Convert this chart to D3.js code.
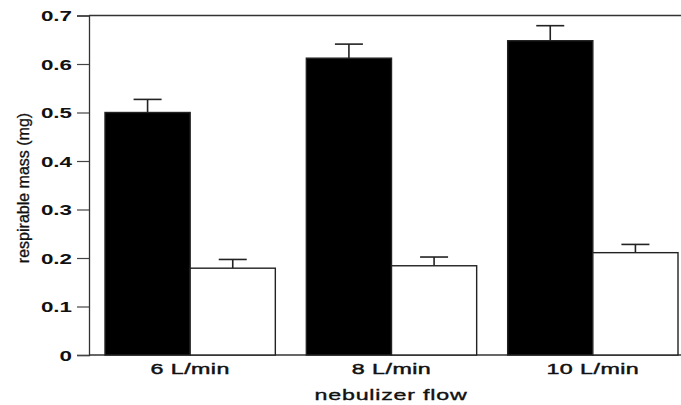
<!DOCTYPE html>
<html>
<head>
<meta charset="utf-8">
<script src="https://cdn.jsdelivr.net/npm/d3@7"></script>
<style>
  body { margin: 0; background: #fff; }
  text { font-family: "Liberation Sans", Arial, sans-serif; fill: #111; }
</style>
</head>
<body>
<div id="chart"></div>
<script>
// Chart data
const categories = ['6 L/min', '8 L/min', '10 L/min'];
const seriesNames = ['dark', 'light'];
const darkValues = [0.50, 0.612, 0.648];
const darkErrors = [0.027, 0.029, 0.031];
const lightValues = [0.179, 0.184, 0.211];
const lightErrors = [0.018, 0.018, 0.017];
const yTicks = [0, 0.1, 0.2, 0.3, 0.4, 0.5, 0.6, 0.7];

const width = 681, height = 405;
const axisX = 89, topY = 15.5, baseY = 355;

const svg = d3.select('#chart').append('svg')
  .attr('width', width)
  .attr('height', height);

const y = d3.scaleLinear().domain([0, 0.7]).range([baseY, topY]);

const x = d3.scaleBand()
  .domain(categories)
  .range([105, 678])
  .paddingInner(0.154);

const xSeries = d3.scaleBand()
  .domain(seriesNames)
  .range([0, x.bandwidth()]);

const fill = d3.scaleOrdinal().domain(seriesNames).range(['#000', '#fff']);

// Build rows for bars
const bars = [];
categories.forEach((c, i) => {
  bars.push({ cat: c, s: 'dark', v: darkValues[i], e: darkErrors[i] });
  bars.push({ cat: c, s: 'light', v: lightValues[i], e: lightErrors[i] });
});

// Frame lines (top and bottom)
svg.append('line')
  .attr('x1', axisX).attr('x2', width)
  .attr('y1', y(0.7)).attr('y2', y(0.7))
  .style('stroke', '#333').style('stroke-width', 1.3);
svg.append('line')
  .attr('x1', axisX).attr('x2', width)
  .attr('y1', y(0)).attr('y2', y(0))
  .style('stroke', '#333').style('stroke-width', 1.3);

// Error bars (upward only)
const cap = 14;
const eb = svg.append('g').selectAll('g')
  .data(bars)
  .enter()
  .append('g')
  .attr('transform', d => `translate(${x(d.cat) + xSeries(d.s) + xSeries.bandwidth() / 2},0)`);
eb.append('line')
  .attr('y1', d => y(d.v)).attr('y2', d => y(d.v + d.e))
  .style('stroke', '#222').style('stroke-width', 1.6);
eb.append('line')
  .attr('x1', -cap).attr('x2', cap)
  .attr('y1', d => y(d.v + d.e)).attr('y2', d => y(d.v + d.e))
  .style('stroke', '#222').style('stroke-width', 1.6);

// Bars
svg.append('g').selectAll('rect')
  .data(bars)
  .enter()
  .append('rect')
  .attr('x', d => x(d.cat) + xSeries(d.s))
  .attr('y', d => y(d.v))
  .attr('width', xSeries.bandwidth())
  .attr('height', d => y(0) - y(d.v))
  .style('fill', d => fill(d.s))
  .style('stroke', '#222')
  .style('stroke-width', 1.4);

// Y axis
const yAxis = svg.append('g')
  .attr('transform', `translate(${axisX},0)`)
  .call(d3.axisLeft(y).tickValues(yTicks).tickSize(12).tickPadding(0)
    .tickFormat(d => d === 0 ? '0' : d3.format('.1f')(d)));
yAxis.select('.domain').style('stroke', '#333').style('stroke-width', 1.3);
yAxis.selectAll('.tick line').style('stroke', '#444').style('stroke-width', 1.2);
yAxis.selectAll('.tick text')
  .attr('x', -17 / 1.6)
  .attr('dy', '0.36em')
  .attr('transform', 'scale(1.6,1)')
  .style('font-size', '14px')
  .style('font-weight', 'bold')
  .style('fill', '#111');

// X tick labels
svg.append('g').selectAll('text')
  .data(categories)
  .enter()
  .append('text')
  .attr('transform', d => `translate(${x(d) + x.bandwidth() / 2},374) scale(1.55,1)`)
  .style('text-anchor', 'middle')
  .style('font-size', '15px')
  .style('letter-spacing', '0.3px')
  .style('stroke', '#111')
  .style('stroke-width', 0.45)
  .text(d => d);

// X axis title
svg.append('text')
  .attr('transform', `translate(391,400) scale(1.55,1)`)
  .style('text-anchor', 'middle')
  .style('font-size', '15px')
  .style('letter-spacing', '0.5px')
  .style('stroke', '#111')
  .style('stroke-width', 0.35)
  .text('nebulizer flow');

// Y axis title
svg.append('text')
  .attr('transform', 'translate(29,188) rotate(-90)')
  .style('text-anchor', 'middle')
  .style('font-size', '16px')
  .style('stroke', '#111')
  .style('stroke-width', 0.3)
  .text('respirable mass (mg)');
</script>
</body>
</html>
